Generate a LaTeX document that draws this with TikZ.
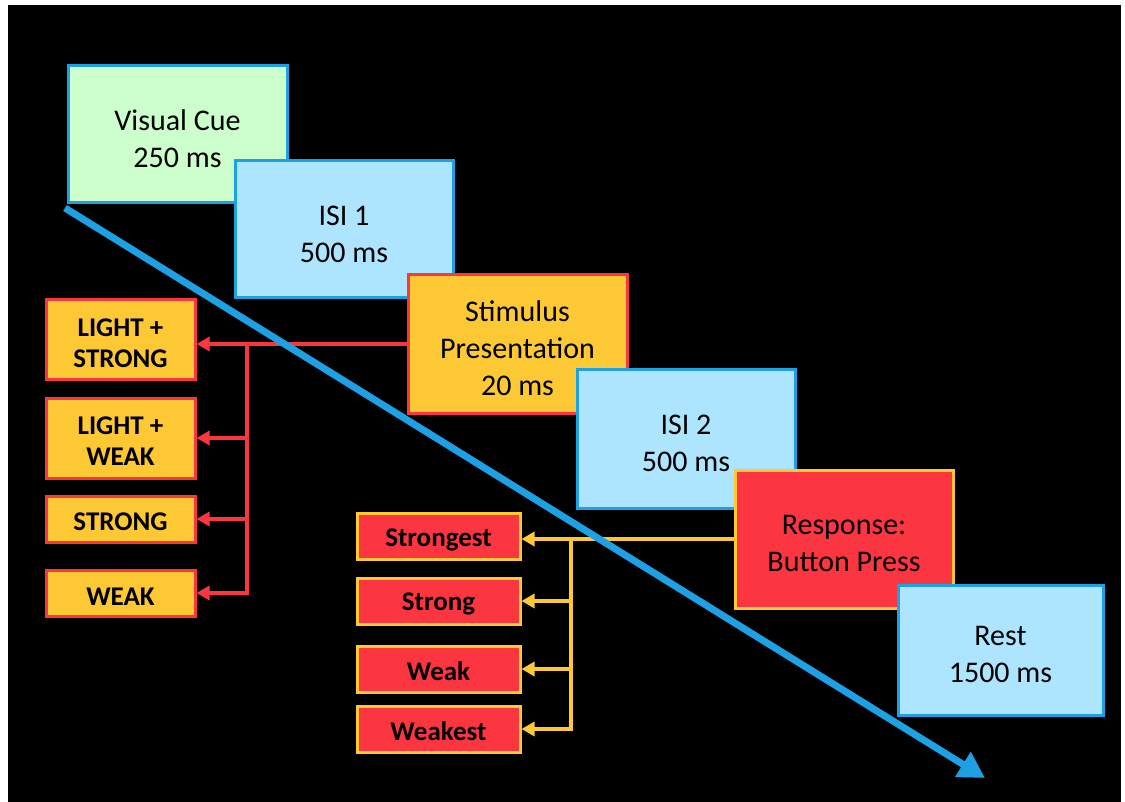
\documentclass[tikz,border=0pt]{standalone}
\usepackage{fontspec}
\setmainfont{Carlito}
\usetikzlibrary{arrows.meta}
\definecolor{cgreen}{RGB}{204,255,204}
\definecolor{clblue}{RGB}{172,229,253}
\definecolor{cblue}{RGB}{30,160,228}
\definecolor{cgold}{RGB}{252,200,52}
\definecolor{cred}{RGB}{252,54,64}
\newcommand{\topstrut}{\rule{0pt}{29pt}}
\newcommand{\smstrut}{\rule{0pt}{24pt}}
\tikzset{
  bigbox/.style={rectangle, line width=3pt, align=center, inner sep=0pt,
    font=\fontsize{30}{37}\selectfont, text=black},
  smallbox/.style={rectangle, line width=3pt, align=center, inner sep=0pt,
    font=\fontsize{27}{31}\selectfont\bfseries, text=black},
  bluebox/.style={bigbox, draw=cblue, fill=clblue},
  redarrow/.style={draw=cred, line width=3.5pt, -{Triangle[length=13pt,width=14pt]}},
  goldarrow/.style={draw=cgold, line width=3.5pt, -{Triangle[length=13pt,width=14pt]}},
  redline/.style={draw=cred, line width=3.5pt},
  goldline/.style={draw=cgold, line width=3.5pt},
  timearrow/.style={draw=cblue, line width=7pt, -{Triangle[length=26pt,width=28pt]}}
}
\begin{document}
\begin{tikzpicture}[x=1pt,y=-1pt]
\useasboundingbox (0,0) rectangle (1125,802);
\fill[white] (0,0) rectangle (1125,802);
\fill[black] (8,5) rectangle (1121,802);

\node[bigbox, draw=cblue, fill=cgreen, minimum width=219pt, minimum height=137pt] (vc) at (177.5,134.5) {\topstrut Visual Cue\\250 ms};
\node[bluebox, minimum width=218pt, minimum height=137pt] (isi1) at (344,229.5) {\topstrut ISI 1\\500 ms};
\node[bigbox, draw=cred, fill=cgold, minimum width=219pt, minimum height=138pt] (stim) at (517.5,344) {\topstrut Stimulus\\Presentation\\20 ms};
\node[bluebox, minimum width=218pt, minimum height=138pt] (isi2) at (686,439) {\topstrut ISI 2\\500 ms};
\node[bigbox, draw=cgold, fill=cred, minimum width=218pt, minimum height=138pt] (resp) at (844,539) {\topstrut Response:\\Button Press};
\node[bluebox, minimum width=205pt, minimum height=130pt] (rest) at (1000.5,650) {\topstrut Rest\\1500 ms};

\tikzset{lbox/.style={smallbox, draw=cred, fill=cgold, minimum width=149pt},
         rbox/.style={smallbox, draw=cgold, fill=cred, minimum width=163pt, minimum height=46pt}}
\node[lbox, minimum height=80pt] (ls) at (120.5,340) {\smstrut LIGHT +\\STRONG};
\node[lbox, minimum height=80pt] (lw) at (120.5,438) {\smstrut LIGHT +\\WEAK};
\node[lbox, minimum height=46pt] (st) at (120.5,519) {\smstrut STRONG};
\node[lbox, minimum height=46pt] (wk) at (120.5,593) {\smstrut WEAK};

\node[rbox] (r1) at (438.5,536.5) {\smstrut Strongest};
\node[rbox] (r2) at (438.5,601) {\smstrut Strong};
\node[rbox] (r3) at (438.5,669) {\smstrut Weak};
\node[rbox] (r4) at (438.5,729) {\smstrut Weakest};

% red connector
\coordinate (rt) at (247,344);
\coordinate (rb) at (247,593);
\draw[redarrow] (stim.west) -- (stim.west -| ls.east);
\draw[redline] (rt) -- (rb);
\draw[redarrow] (rt |- lw.east) -- (lw.east);
\draw[redarrow] (rt |- st.east) -- (st.east);
\draw[redarrow] ([xshift=1.75pt]rb) -- (wk.east);

% gold connector
\coordinate (gt) at (571,539);
\coordinate (gb) at (571,729);
\draw[goldarrow] (resp.west) -- (resp.west -| r1.east);
\draw[goldline] (gt) -- (gb);
\draw[goldarrow] (gt |- r2.east) -- (r2.east);
\draw[goldarrow] (gt |- r3.east) -- (r3.east);
\draw[goldarrow] ([xshift=1.75pt]gb) -- (r4.east);

% time arrow
\coordinate (ta) at (65,208);
\coordinate (tb) at (985,778);
\draw[timearrow] (ta) -- (tb);
\end{tikzpicture}
\end{document}
